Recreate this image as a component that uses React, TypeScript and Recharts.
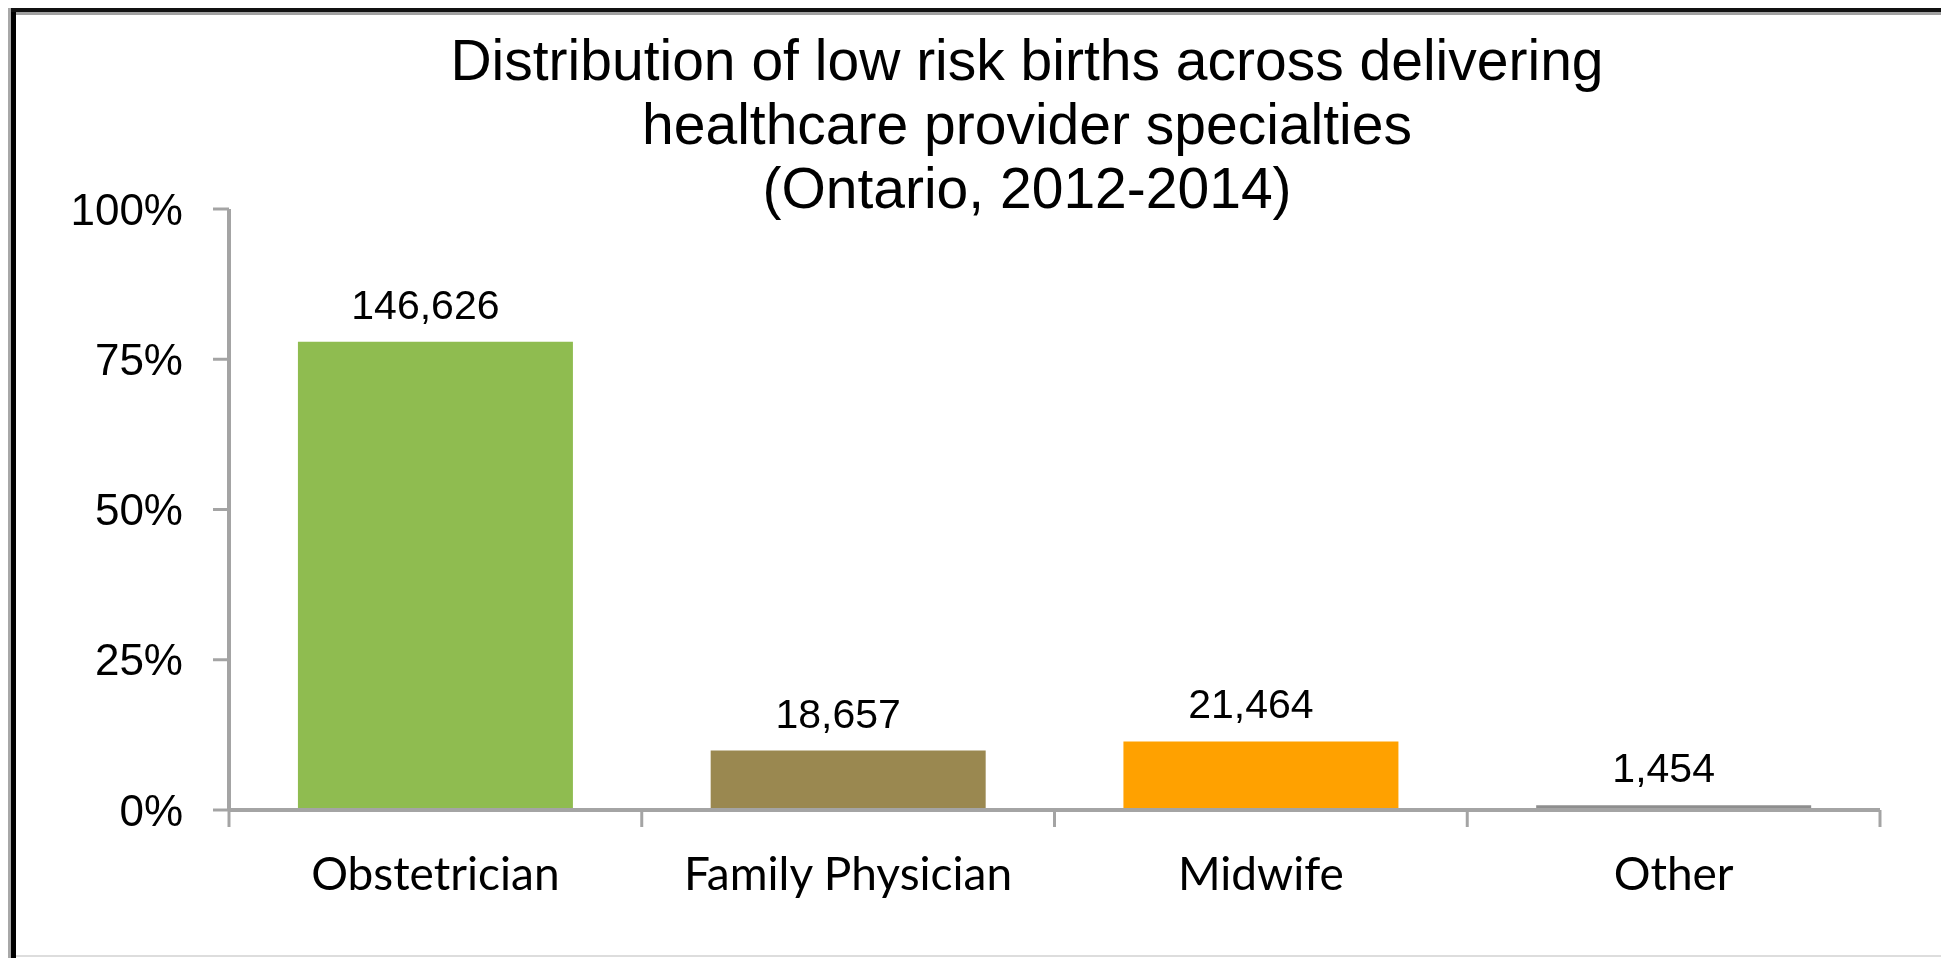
import React from 'react';
import { BarChart, Bar, XAxis, YAxis, Cell, LabelList } from 'recharts';

const categories = ['Obstetrician', 'Family Physician', 'Midwife', 'Other'];
const births = [146626, 18657, 21464, 1454];
const sharePct = [77.9, 9.9, 11.4, 0.8];
const barColors = ['#8FBC50', '#9A8850', '#FFA100', '#8E8E8E'];
const yTicks = [0, 25, 50, 75, 100];
const titleLines = [
  'Distribution of low risk births across delivering',
  'healthcare provider specialties',
  '(Ontario, 2012-2014)',
];

const data = categories.map((category, i) => ({
  category,
  share: sharePct[i],
  births: births[i],
}));

const W = 1941;
const H = 958;
const AXIS = '#A4A4A4';
const ARIAL = '"Liberation Sans", Arial, sans-serif';

// Excel puts category ticks between the bars, so draw them ourselves
const CategoryTick = (props: any) => {
  const { x, y, payload, index } = props;
  const half = payload.offset || (1880 - 229) / 8;
  return (
    <g>
      <line x1={x - half} x2={x - half} y1={y} y2={y + 17} stroke={AXIS} strokeWidth={3} />
      {index === categories.length - 1 && (
        <line x1={x + half} x2={x + half} y1={y} y2={y + 17} stroke={AXIS} strokeWidth={3} />
      )}
      <text x={x} y={y + 80} textAnchor="middle" fontFamily="Lato, sans-serif" fontSize={46} fill="#000">
        {payload.value}
      </text>
    </g>
  );
};

const fixed = (s: React.CSSProperties): React.CSSProperties => ({ position: 'fixed', ...s });

export default function App() {
  return (
    <div>
      {/* frame */}
      <div style={fixed({ left: 8, top: 8, width: 3, height: 950, background: '#a8a8a8' })} />
      <div style={fixed({ left: 11, top: 8, width: 5, height: 950, background: '#000' })} />
      <div style={fixed({ left: 11, top: 8, width: 1930, height: 4, background: '#111' })} />
      <div style={fixed({ left: 16, top: 12, width: 1925, height: 3, background: '#a0a0a0' })} />
      <div style={fixed({ left: 16, top: 955, width: 1925, height: 2, background: '#ddd' })} />

      <div style={fixed({ left: 0, top: 0, width: W, height: H })}>
        <BarChart
          width={W}
          height={H}
          data={data}
          margin={{ top: 209, right: 61, bottom: 0, left: 0 }}
          barCategoryGap="16.7%"
        >
          <XAxis
            dataKey="category"
            height={148}
            axisLine={{ stroke: AXIS, strokeWidth: 4 }}
            tickLine={false}
            tickSize={0}
            tickMargin={0}
            tick={<CategoryTick />}
            interval={0}
          />
          <YAxis
            width={229}
            domain={[0, 100]}
            ticks={yTicks}
            tickFormatter={(v) => `${v}%`}
            axisLine={{ stroke: AXIS, strokeWidth: 4 }}
            tickLine={{ stroke: AXIS, strokeWidth: 3 }}
            tickSize={16}
            tickMargin={30}
            tick={{ fontSize: 44, fill: '#000', fontFamily: ARIAL }}
          />
          <Bar dataKey="share" isAnimationActive={false}>
            {data.map((d, i) => (
              <Cell key={d.category} fill={barColors[i]} />
            ))}
            <LabelList
              dataKey="births"
              position="top"
              offset={23}
              dx={-10}
              formatter={(v: any) => Number(v).toLocaleString('en-US')}
              fill="#000"
              fontSize={41}
              fontFamily={ARIAL}
            />
          </Bar>
        </BarChart>
      </div>

      {/* title */}
      <svg style={fixed({ left: 0, top: 0, pointerEvents: 'none' })} width={W} height={230}>
        {titleLines.map((line, i) => (
          <text
            key={line}
            x={1027}
            y={80 + i * 64}
            textAnchor="middle"
            fontFamily={ARIAL}
            fontSize={57}
            fill="#000"
          >
            {line}
          </text>
        ))}
      </svg>
    </div>
  );
}
